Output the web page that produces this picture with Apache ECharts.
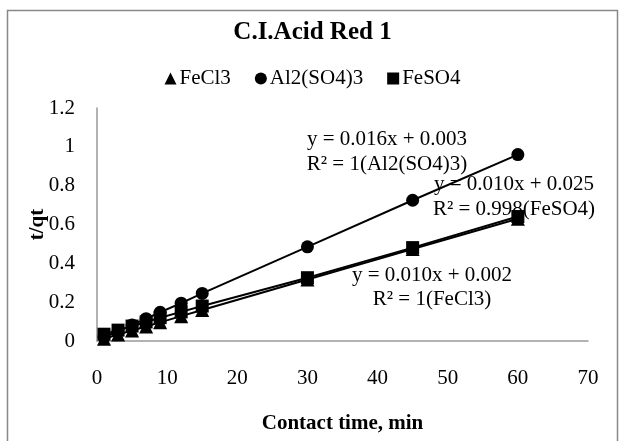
<!DOCTYPE html>
<html>
<head>
<meta charset="utf-8">
<script src="https://cdn.jsdelivr.net/npm/echarts@6/dist/echarts.min.js"></script>
<style>html,body{margin:0;padding:0;background:#fff}#c{width:625px;height:441px}</style>
</head>
<body>
<div id="c"></div>
<script>
var contactTime = [1, 3, 5, 7, 9, 12, 15, 30, 45, 60];
var fecl3 = [0.012, 0.033, 0.054, 0.075, 0.096, 0.128, 0.16, 0.317, 0.474, 0.63];
var al2so43 = [0.02, 0.05, 0.083, 0.115, 0.148, 0.195, 0.245, 0.485, 0.725, 0.96];
var feso4 = [0.035, 0.056, 0.077, 0.098, 0.12, 0.15, 0.18, 0.326, 0.481, 0.641];
var seriesNames = ['FeCl3', 'Al2(SO4)3', 'FeSO4'];
var seriesSymbols = ['triangle', 'circle', 'rect'];
var eqTexts = [
  ['y = 0.016x + 0.003', 'R² = 1(Al2(SO4)3)'],
  ['y = 0.010x + 0.025', 'R² = 0.998(FeSO4)'],
  ['y = 0.010x + 0.002', 'R² = 1(FeCl3)']
];

function pairs(ys) { return contactTime.map(function (x, i) { return [x, ys[i]]; }); }
var seriesData = [fecl3, al2so43, feso4];
var font = '"Liberation Serif", "Times New Roman", serif';

var chart = echarts.init(document.getElementById('c'), null, {renderer: 'canvas'});
var series = seriesNames.map(function (n, i) {
  return {
    name: n, type: 'line', data: pairs(seriesData[i]),
    symbol: seriesSymbols[i], symbolSize: seriesSymbols[i] === 'triangle' ? 14 : 13,
    lineStyle: {color: '#000', width: 2}, itemStyle: {color: '#000'},
    emphasis: {disabled: true}, animation: false
  };
});

function eqGraphic(lines, cx, y1, y2) {
  return [
    {type: 'text', x: cx, y: y1, style: {text: lines[0], font: '21px ' + font, fill: '#000', textAlign: 'center', textVerticalAlign: 'middle'}, z: 100},
    {type: 'text', x: cx, y: y2, style: {text: lines[1], font: '21px ' + font, fill: '#000', textAlign: 'center', textVerticalAlign: 'middle'}, z: 100}
  ];
}

chart.setOption({
  animation: false,
  backgroundColor: '#fff',
  title: {
    text: 'C.I.Acid Red 1', left: 'center', top: 15,
    textStyle: {fontFamily: font, fontSize: 25, fontWeight: 'bold', color: '#000'}
  },
  legend: {
    data: seriesNames.map(function (n, i) { return {name: n, icon: seriesSymbols[i]}; }),
    left: 'center', top: 63, itemWidth: 12, itemHeight: 12, itemGap: 24,
    textStyle: {fontFamily: font, fontSize: 21, color: '#000', padding: [0, 0, 0, -2]},
    itemStyle: {color: '#000'}
  },
  grid: {left: 97, right: 37, top: 108, bottom: 100, containLabel: false},
  xAxis: {
    type: 'value', min: 0, max: 70, interval: 10,
    name: 'Contact time, min', nameLocation: 'middle', nameGap: 72,
    nameTextStyle: {fontFamily: font, fontSize: 21, fontWeight: 'bold', color: '#000'},
    axisLine: {show: true, lineStyle: {color: '#999', width: 1.5}},
    axisTick: {show: false}, splitLine: {show: false},
    axisLabel: {fontFamily: font, fontSize: 21, color: '#000', margin: 27}
  },
  yAxis: {
    type: 'value', min: 0, max: 1.2, interval: 0.2,
    name: 't/qt', nameLocation: 'middle', nameGap: 49, nameRotate: 90, nameMoveOverlap: false,
    nameTextStyle: {fontFamily: font, fontSize: 21, fontWeight: 'bold', color: '#000'},
    axisLine: {show: true, lineStyle: {color: '#999', width: 1.5}},
    axisTick: {show: false}, splitLine: {show: false},
    axisLabel: {fontFamily: font, fontSize: 21, color: '#000', margin: 22,
      formatter: function (v) { return String(Math.round(v * 10) / 10); }}
  },
  graphic: [
    {type: 'rect', shape: {x: 7.5, y: 10.5, width: 610, height: 440}, style: {fill: 'none', stroke: '#888', lineWidth: 1.5}, z: -1, silent: true}
  ].concat(eqGraphic(eqTexts[0], 387, 139, 164))
   .concat(eqGraphic(eqTexts[1], 514, 184, 209))
   .concat(eqGraphic(eqTexts[2], 432, 275, 299)),
  series: series
});
</script>
</body>
</html>
